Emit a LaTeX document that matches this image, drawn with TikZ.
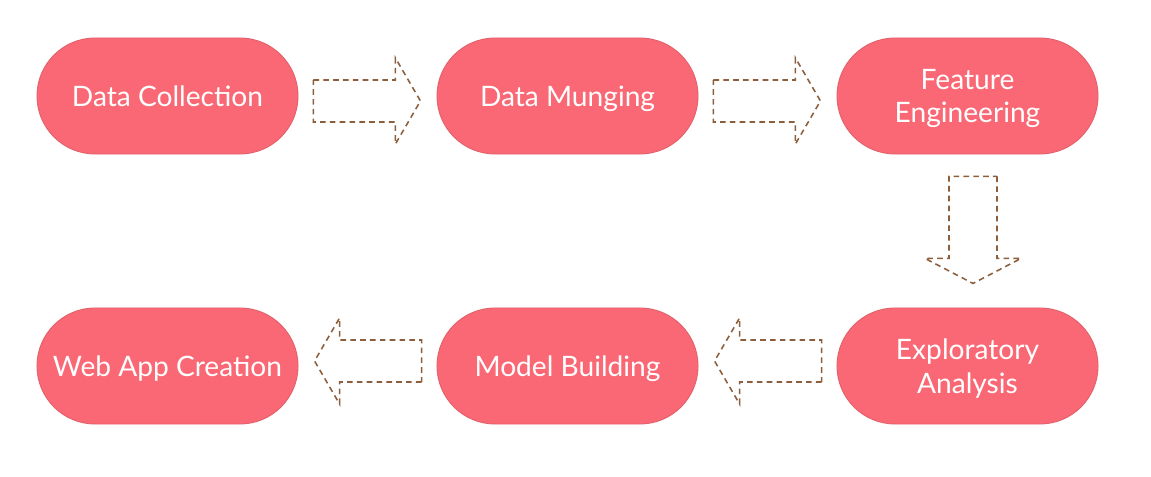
\documentclass[tikz,border=0pt]{standalone}
\usepackage{fontspec}
\setmainfont{Lato}
\usetikzlibrary{positioning, calc, shapes.misc}

\definecolor{stagefill}{HTML}{F96874}
\definecolor{stageline}{HTML}{E0606B}
\definecolor{arrowline}{HTML}{8C5E3C}

\tikzset{
  stage/.style={rounded rectangle, draw=stageline, fill=stagefill, line width=0.6pt,
    minimum width=6.525cm, minimum height=2.9cm, inner sep=0pt, text depth=0pt,
    text=white, align=center, font=\fontsize{20}{24}\selectfont},
  flowarrow/.style={draw=arrowline, line width=1.1pt, dash pattern=on 4pt off 3pt}
}

% block arrow: anchor, angle, gap, half body, half head, offset
\newcommand{\blockarrow}[6]{
  \begin{scope}[shift={($(#1)+(#6)$)}, rotate=#2]
    \draw[flowarrow] (#3,-#4) -- ++(82,0) -- ++(0,-#5+#4) -- ($(#3,0)+(107,0)$)
      -- ($(#3,#5)+(82,0)$) -- ++(0,-#5+#4) -- (#3,#4) -- cycle;
  \end{scope}
}

\begin{document}
\begin{tikzpicture}[x=0.025cm, y=-0.025cm]
  \useasboundingbox (0,0) rectangle (1151,477);

  % Top row
  \node[stage] (collect) at (167.5,96) {Data Collection};
  \node[stage] (munge) at (567.5,96) {Data Munging};
  \node[stage] (feature) at (967.5,96) {Feature\\Engineering};

  % Bottom row
  \node[stage] (webapp) at (167.5,366) {Web App Creation};
  \node[stage] (model) at (567.5,366) {Model Building};
  \node[stage] (explore) at (967.5,366) {Exploratory\\Analysis};

  % Block arrows
  \blockarrow{collect.east}{0}{15}{21}{43}{0,5}
  \blockarrow{munge.east}{0}{15}{21}{43}{0,5}
  \blockarrow{feature.south}{-90}{22}{24}{48}{5.5,0}
  \blockarrow{explore.west}{180}{15}{21}{43}{0,-5}
  \blockarrow{model.west}{180}{15}{21}{43}{0,-5}
\end{tikzpicture}
\end{document}
